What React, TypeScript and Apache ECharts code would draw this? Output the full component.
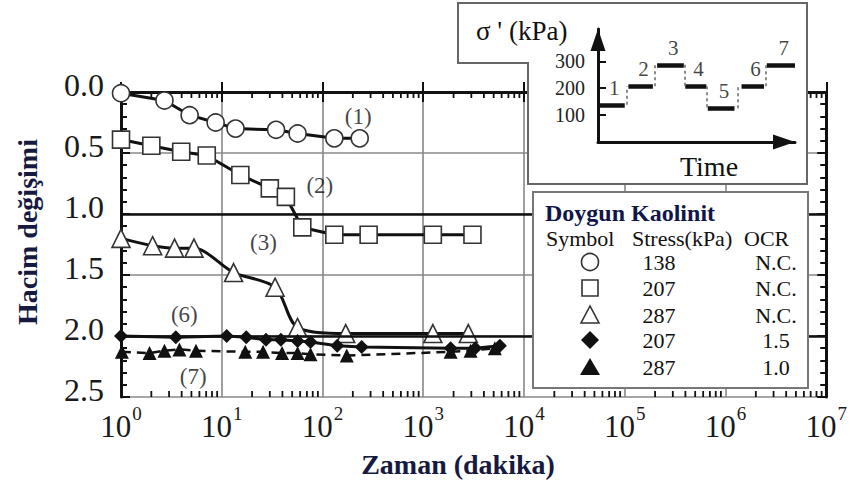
import React, { useEffect, useRef } from "react";
import * as echarts from "echarts";

const FONT = "Liberation Serif";

// Main axes
const xTickExps = ["0", "1", "2", "3", "4", "5", "6", "7"];
const yTickLabels = ["0.0", "0.5", "1.0", "1.5", "2.0", "2.5"];
const minorMultipliers = [2, 3, 4, 5, 6, 7, 8, 9];
const decades = [1, 10, 100, 1000, 10000, 100000, 1000000];

// Series (time in minutes, volume change)
const s1X = [1.0, 2.7, 4.8, 8.7, 13.7, 34.6, 56.6, 131, 234];
const s1Y = [0.01, 0.07, 0.19, 0.25, 0.3, 0.31, 0.34, 0.38, 0.38];

const s2X = [1.0, 2.0, 3.96, 7.1, 15.3, 30, 43.3, 63, 131, 287, 1245, 3080];
const s2Y = [0.39, 0.44, 0.49, 0.52, 0.68, 0.79, 0.86, 1.11, 1.17, 1.17, 1.17, 1.17];

const s3X = [1.0, 2.06, 3.4, 5.3, 13.1, 33.8, 56.5, 170, 1245, 2800];
const s3Y = [1.2, 1.26, 1.28, 1.28, 1.48, 1.6, 1.93, 1.98, 1.98, 1.98];

const s4X = [1.0, 3.5, 11.2, 17.5, 27.5, 38.6, 56.6, 76, 140, 245, 1870, 3280, 5760];
const s4Y = [2.0, 2.01, 2.0, 2.01, 2.03, 2.03, 2.04, 2.05, 2.08, 2.09, 2.1, 2.1, 2.08];

const s5X = [1.02, 1.92, 2.7, 3.8, 5.55, 17.1, 25.7, 39.7, 56.6, 76, 174, 1870, 2950, 5130];
const s5Y = [2.13, 2.14, 2.12, 2.11, 2.12, 2.13, 2.13, 2.14, 2.14, 2.15, 2.16, 2.13, 2.12, 2.1];

const annText = ["(1)", "(2)", "(3)", "(6)", "(7)"];
const annX = [226, 94, 25.9, 4.25, 5.2];
const annY = [0.2, 0.77, 1.23, 1.82, 2.33];

const blackLines = [1.0, 2.0];

// Inset: stress history
const stressLevels = [138, 207, 287, 207, 125, 207, 287];
const stepStart = [0, 1.08, 2.1, 3.1, 3.9, 5.1, 6.0];
const stepEnd = [0.95, 1.95, 3.05, 3.85, 4.85, 5.9, 7.0];
const stepNames = ["1", "2", "3", "4", "5", "6", "7"];
const insetTicks = [100, 200, 300];

// Legend table
const legendStress = ["138", "207", "287", "207", "287"];
const legendOCR = ["N.C.", "N.C.", "N.C.", "1.5", "1.0"];

const zip = (xs: number[], ys: number[]) => xs.map((x, i) => [x, ys[i]]);

function buildOption() {
  const minorTicks: number[][] = [];
  decades.forEach((d) => minorMultipliers.forEach((m) => minorTicks.push([m * d, 0])));

  const lineBase = { type: "line", xAxisIndex: 0, yAxisIndex: 0, z: 3 } as any;

  const legendRowsY = [262, 288, 315, 340, 367];
  const sx = 590;
  const mid = { verticalAlign: "middle", textVerticalAlign: "middle" };
  const center = { align: "center", textAlign: "center", ...mid };
  const txtStyle = (t: string, size: number, extra: any = {}) => ({
    text: t,
    fontSize: size,
    fontFamily: FONT,
    fill: "#111",
    ...extra,
  });

  const legendElems: any[] = [
    {
      type: "rect",
      shape: { x: 533, y: 192, width: 275, height: 196 },
      style: { fill: "#fff", stroke: "#777", lineWidth: 2 },
      z: 10,
    },
    {
      type: "text",
      x: 545,
      y: 213,
      z: 11,
      style: txtStyle("Doygun Kaolinit", 24, { fontWeight: "bold", fill: "#10164a", ...mid }),
    },
    { type: "text", x: 546, y: 238, z: 11, style: txtStyle("Symbol", 22, mid) },
    { type: "text", x: 632, y: 238, z: 11, style: txtStyle("Stress(kPa)", 22, mid) },
    { type: "text", x: 744, y: 238, z: 11, style: txtStyle("OCR", 22, mid) },
    { type: "circle", shape: { cx: sx, cy: legendRowsY[0], r: 8.5 }, style: { fill: "#fff", stroke: "#333", lineWidth: 1.6 }, z: 11 },
    { type: "rect", shape: { x: sx - 8, y: legendRowsY[1] - 8, width: 16, height: 16 }, style: { fill: "#fff", stroke: "#333", lineWidth: 1.6 }, z: 11 },
    {
      type: "polygon",
      shape: { points: [[sx, legendRowsY[2] - 9], [sx - 9, legendRowsY[2] + 8], [sx + 9, legendRowsY[2] + 8]] },
      style: { fill: "#fff", stroke: "#333", lineWidth: 1.6 },
      z: 11,
    },
    {
      type: "polygon",
      shape: { points: [[sx, legendRowsY[3] - 9], [sx + 9, legendRowsY[3]], [sx, legendRowsY[3] + 9], [sx - 9, legendRowsY[3]]] },
      style: { fill: "#111" },
      z: 11,
    },
    {
      type: "polygon",
      shape: { points: [[sx, legendRowsY[4] - 9], [sx - 10, legendRowsY[4] + 8], [sx + 10, legendRowsY[4] + 8]] },
      style: { fill: "#111" },
      z: 11,
    },
  ];
  legendStress.forEach((s, i) => {
    legendElems.push({ type: "text", x: 659, y: legendRowsY[i], z: 11, style: txtStyle(s, 22, center) });
    legendElems.push({ type: "text", x: 776, y: legendRowsY[i], z: 11, style: txtStyle(legendOCR[i], 22, center) });
  });

  const insetElems: any[] = [
    {
      type: "polygon",
      shape: { points: [[458, 3], [807, 3], [807, 184], [528, 184], [528, 63], [458, 63]] },
      style: { fill: "#fff", stroke: "#666", lineWidth: 2 },
      z: 5,
    },
    { type: "text", x: 476, y: 31, z: 6, style: txtStyle("σ ' (kPa)", 27, mid) },
    { type: "text", x: 709, y: 166, z: 6, style: txtStyle("Time", 28, center) },
  ];

  const nameElems: any[] = [
    {
      type: "text",
      x: 27,
      y: 232,
      rotation: Math.PI / 2,
      z: 1,
      style: txtStyle("Hacim değişimi", 28, { fontWeight: "bold", fill: "#161a40", ...center }),
    },
    {
      type: "text",
      x: 458,
      y: 464,
      z: 1,
      style: txtStyle("Zaman (dakika)", 28, { fontWeight: "bold", fill: "#161a40", ...center }),
    },
  ];

  const symStyle = { color: "#fff", borderColor: "#333", borderWidth: 1.6 };

  return {
    animation: false,
    backgroundColor: "#fff",
    grid: [
      { left: 121, right: 16, top: 92, bottom: 87 },
      { left: 598, top: 29, width: 197, height: 113 },
    ],
    xAxis: [
      {
        type: "log",
        gridIndex: 0,
        logBase: 10,
        min: 1,
        max: 1e7,
        splitNumber: 7,
        position: "bottom",
        z: 1,
        axisLine: { show: true, lineStyle: { color: "#111", width: 3 } },
        axisTick: { show: true, inside: true, length: 10, lineStyle: { color: "#111", width: 2 } },
        splitLine: { show: true, lineStyle: { color: "#888", width: 1.6 } },
        axisLabel: {
          margin: 15,
          formatter: (_v: number, i: number) => `{b|10}{s|${xTickExps[i]}}`,
          rich: {
            b: { fontSize: 31, fontFamily: FONT, color: "#1a1a1a", lineHeight: 30, verticalAlign: "bottom" },
            s: { fontSize: 19, fontFamily: FONT, color: "#1a1a1a", lineHeight: 18, verticalAlign: "bottom", padding: [0, 0, 19, 1] },
          },
        },
      },
      {
        type: "log",
        gridIndex: 0,
        logBase: 10,
        min: 1,
        max: 1e7,
        splitNumber: 7,
        position: "top",
        z: 1,
        axisLine: { show: true, lineStyle: { color: "#111", width: 2.5 } },
        axisTick: { show: true, inside: true, length: 10, lineStyle: { color: "#111", width: 2 } },
        splitLine: { show: false },
        axisLabel: { show: false },
      },
      {
        type: "value",
        gridIndex: 1,
        min: 0,
        max: 7,
        z: 7,
        axisLine: {
          show: true,
          symbol: ["none", "triangle"],
          symbolSize: [15, 22],
          symbolOffset: [0, -11],
          lineStyle: { color: "#111", width: 3 },
        },
        axisTick: { show: false },
        axisLabel: { show: false },
        splitLine: { show: false },
      },
    ],
    yAxis: [
      {
        type: "value",
        gridIndex: 0,
        inverse: true,
        min: 0,
        max: 2.5,
        interval: 0.5,
        position: "left",
        z: 1,
        axisLine: { show: true, lineStyle: { color: "#111", width: 3 } },
        axisTick: { show: true, inside: true, length: 9, lineStyle: { color: "#111", width: 2 } },
        minorTick: { show: true, splitNumber: 5, length: 6, lineStyle: { color: "#111", width: 2 } },
        splitLine: { show: true, lineStyle: { color: "#888", width: 1.6 } },
        axisLabel: {
          margin: 17,
          formatter: (_v: number, i: number) => `{a|${yTickLabels[i]}}`,
          rich: {
            a: { fontSize: 32, fontFamily: FONT, color: "#1a1a1a", lineHeight: 32, padding: [0, 0, 14, 0] },
          },
        },
      },
      {
        type: "value",
        gridIndex: 0,
        inverse: true,
        min: 0,
        max: 2.5,
        interval: 0.5,
        position: "right",
        z: 1,
        axisLine: { show: true, lineStyle: { color: "#111", width: 3 } },
        axisTick: { show: true, inside: true, length: 9, lineStyle: { color: "#111", width: 2 } },
        minorTick: { show: true, splitNumber: 5, length: 6, lineStyle: { color: "#111", width: 2 } },
        splitLine: { show: false },
        axisLabel: { show: false },
      },
      {
        type: "value",
        gridIndex: 1,
        min: 0,
        max: 420,
        z: 7,
        axisLine: {
          show: true,
          symbol: ["none", "triangle"],
          symbolSize: [15, 22],
          symbolOffset: [0, -11],
          lineStyle: { color: "#111", width: 3 },
        },
        axisTick: { show: true, inside: true, length: 8, customValues: insetTicks, lineStyle: { color: "#111", width: 2 } },
        axisLabel: {
          show: true,
          customValues: insetTicks,
          margin: 13,
          fontSize: 20,
          fontFamily: FONT,
          color: "#222",
        },
        splitLine: { show: false },
      },
    ],
    graphic: { elements: [...nameElems, ...insetElems, ...legendElems] },
    series: [
      {
        type: "custom",
        name: "minorTicks",
        xAxisIndex: 0,
        yAxisIndex: 0,
        z: 2,
        silent: true,
        data: minorTicks,
        renderItem: (_p: any, api: any) => {
          const x = api.value(0);
          const b = api.coord([x, 2.5]);
          const t = api.coord([x, 0]);
          const st = { stroke: "#111", lineWidth: 1.8 };
          return {
            type: "group",
            children: [
              { type: "line", shape: { x1: b[0], y1: b[1], x2: b[0], y2: b[1] - 6 }, style: st },
              { type: "line", shape: { x1: t[0], y1: t[1], x2: t[0], y2: t[1] + 6 }, style: st },
            ],
          };
        },
      },
      {
        ...lineBase,
        name: "138 N.C.",
        data: zip(s1X, s1Y),
        symbol: "circle",
        symbolSize: 17,
        itemStyle: symStyle,
        lineStyle: { color: "#111", width: 3 },
      },
      {
        ...lineBase,
        name: "207 N.C.",
        data: zip(s2X, s2Y),
        symbol: "rect",
        symbolSize: 17,
        itemStyle: symStyle,
        lineStyle: { color: "#111", width: 3 },
      },
      {
        ...lineBase,
        name: "287 N.C.",
        data: zip(s3X, s3Y),
        symbol: "triangle",
        symbolSize: 18,
        smooth: 0.3,
        itemStyle: symStyle,
        lineStyle: { color: "#111", width: 3 },
        markLine: {
          silent: true,
          symbol: "none",
          label: { show: false },
          lineStyle: { color: "#111", width: 2.5, type: "solid" },
          data: blackLines.map((v) => ({ yAxis: v })),
        },
      },
      {
        ...lineBase,
        name: "207 OCR1.5",
        data: zip(s4X, s4Y),
        symbol: "diamond",
        symbolSize: 14,
        itemStyle: { color: "#111" },
        lineStyle: { color: "#111", width: 3 },
      },
      {
        ...lineBase,
        name: "287 OCR1.0",
        data: zip(s5X, s5Y),
        symbol: "triangle",
        symbolSize: 14,
        itemStyle: { color: "#111" },
        lineStyle: { color: "#111", width: 2.5, type: [9, 6] },
      },
      {
        type: "scatter",
        name: "annotations",
        xAxisIndex: 0,
        yAxisIndex: 0,
        z: 4,
        silent: true,
        symbolSize: 1,
        itemStyle: { color: "rgba(0,0,0,0)" },
        data: zip(annX, annY),
        label: {
          show: true,
          position: "inside",
          fontSize: 23,
          fontFamily: FONT,
          color: "#111",
          formatter: (p: any) => annText[p.dataIndex],
        },
      },
      {
        type: "lines",
        name: "stressSteps",
        coordinateSystem: "cartesian2d",
        xAxisIndex: 2,
        yAxisIndex: 2,
        z: 7,
        silent: true,
        lineStyle: { color: "#111", width: 4.5, opacity: 1 },
        data: stressLevels.map((s, i) => ({ coords: [[stepStart[i], s], [stepEnd[i], s]] })),
      },
      {
        type: "lines",
        name: "stressRisers",
        coordinateSystem: "cartesian2d",
        xAxisIndex: 2,
        yAxisIndex: 2,
        z: 7,
        silent: true,
        lineStyle: { color: "#666", width: 1.5, type: [3, 3], opacity: 1 },
        data: stressLevels.slice(1).map((s, i) => {
          const x = (stepEnd[i] + stepStart[i + 1]) / 2;
          return { coords: [[x, stressLevels[i]], [x, s]] };
        }),
      },
      {
        type: "scatter",
        name: "stepNames",
        xAxisIndex: 2,
        yAxisIndex: 2,
        z: 7,
        silent: true,
        symbolSize: 1,
        itemStyle: { color: "rgba(0,0,0,0)" },
        data: stressLevels.map((s, i) => [(stepStart[i] + stepEnd[i]) / 2 + 0.1, s]),
        label: {
          show: true,
          position: "top",
          distance: 6,
          fontSize: 21,
          fontFamily: FONT,
          color: "#111",
          formatter: (p: any) => stepNames[p.dataIndex],
        },
      },
    ],
  };
}

const App = () => {
  const ref = useRef<HTMLDivElement>(null);
  useEffect(() => {
    const chart = echarts.init(ref.current!, null, { renderer: "svg" });
    chart.setOption(buildOption() as any);
    return () => chart.dispose();
  }, []);
  return (
    <div
      ref={ref}
      style={{ position: "absolute", left: 0, top: 0, width: 850, height: 484, background: "#fff" }}
    />
  );
};

export default App;
